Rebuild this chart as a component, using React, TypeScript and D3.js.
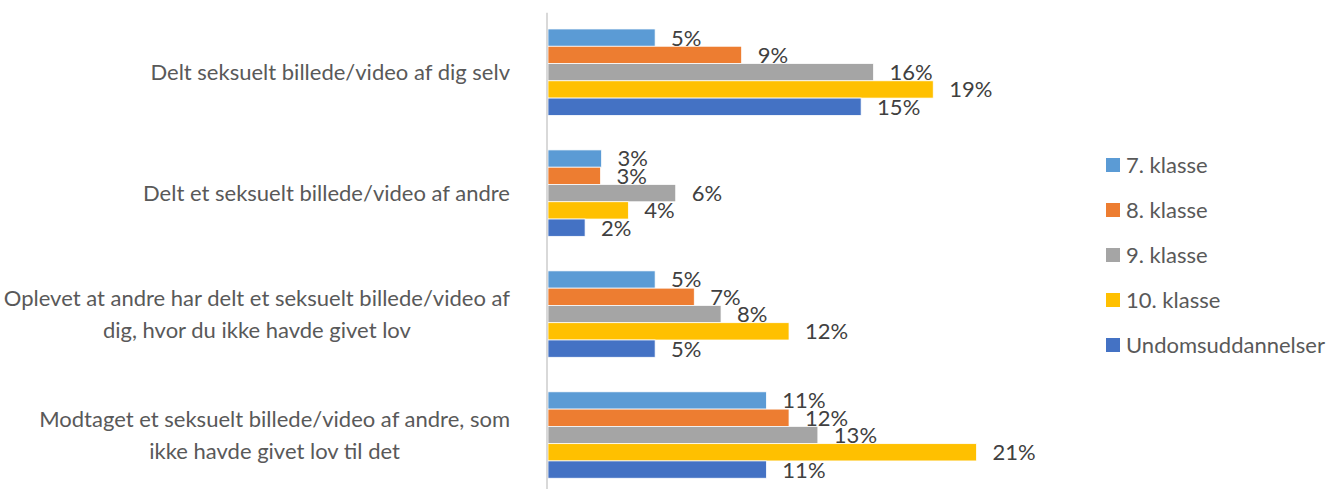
import React, { useRef, useEffect } from 'react';
import * as d3 from 'd3';

// categories (each entry is the wrapped lines of the label)
const categories: string[][] = [
  ['Delt seksuelt billede/video af dig selv'],
  ['Delt et seksuelt billede/video af andre'],
  ['Oplevet at andre har delt et seksuelt billede/video af', 'dig, hvor du ikke havde givet lov'],
  ['Modtaget et seksuelt billede/video af andre, som', 'ikke havde givet lov til det'],
];

const seriesNames = ['7. klasse', '8. klasse', '9. klasse', '10. klasse', 'Undomsuddannelser'];
const seriesColors = ['#5B9BD5', '#ED7D31', '#A5A5A5', '#FFC000', '#4472C4'];

// percent per category, one array per series
const klasse7 = [5.2, 2.6, 5.2, 10.6];
const klasse8 = [9.4, 2.55, 7.1, 11.7];
const klasse9 = [15.8, 6.2, 8.4, 13.1];
const klasse10 = [18.7, 3.9, 11.7, 20.8];
const undoms = [15.2, 1.8, 5.2, 10.6];

const seriesValues = [klasse7, klasse8, klasse9, klasse10, undoms];

const xMax = 25;

const W = 1331;
const H = 489;
const FONT = 'Lato, "Liberation Sans", sans-serif';
const FS = '22px';

const App: React.FC = () => {
  const svgRef = useRef<SVGSVGElement | null>(null);

  useEffect(() => {
    document.body.style.margin = '0';
    document.body.style.overflow = 'hidden';
    if (!svgRef.current) return;
    const svg = d3.select(svgRef.current);
    svg.selectAll('*').remove();

    const margin = { top: 11.7, left: 548 };
    const plotW = 515;
    const plotH = 483.8;

    const x = d3.scaleLinear().domain([0, xMax]).range([margin.left, margin.left + plotW]);
    const y = d3.scaleBand<number>()
      .domain(categories.map((_, i) => i))
      .range([margin.top, margin.top + plotH])
      .paddingInner(2 / 7)
      .paddingOuter(1 / 7);
    const ys = d3.scaleBand<number>()
      .domain(seriesNames.map((_, i) => i))
      .range([0, y.bandwidth()]);

    // bars
    const groups = svg.append('g')
      .selectAll('g')
      .data(categories.map((_, ci) => ci))
      .enter()
      .append('g')
      .attr('transform', ci => `translate(0, ${y(ci)})`);

    groups.selectAll('rect')
      .data(ci => seriesValues.map((vals, si) => ({ si, v: vals[ci] })))
      .enter()
      .append('rect')
      .attr('x', x(0))
      .attr('y', d => ys(d.si)!)
      .attr('width', d => x(d.v) - x(0))
      .attr('height', ys.bandwidth())
      .attr('fill', d => seriesColors[d.si])
      .attr('stroke', '#fff')
      .attr('stroke-width', 0.75);

    groups.selectAll('text')
      .data(ci => seriesValues.map((vals, si) => ({ si, v: vals[ci] })))
      .enter()
      .append('text')
      .attr('x', d => x(d.v) + 16)
      .attr('y', d => ys(d.si)! + ys.bandwidth() / 2)
      .attr('dy', '0.36em')
      .attr('fill', '#404040')
      .style('font-family', FONT)
      .style('font-size', FS)
      .text(d => `${Math.round(d.v)}%`);

    // axis line
    svg.append('line')
      .attr('x1', x(0) - 1)
      .attr('x2', x(0) - 1)
      .attr('y1', margin.top + 1)
      .attr('y2', margin.top + plotH)
      .attr('stroke', '#D9D9D9')
      .attr('stroke-width', 2);

    // category labels
    const lineH = 31.3;
    const rightEdge = 510;
    categories.forEach((lines, ci) => {
      const cy = y(ci)! + y.bandwidth() / 2;
      const g = svg.append('g');
      const texts = lines.map((ln, li) =>
        g.append('text')
          .attr('y', cy + (li - (lines.length - 1) / 2) * lineH)
          .attr('dy', '0.36em')
          .attr('text-anchor', 'middle')
          .attr('fill', '#595959')
          .style('font-family', FONT)
          .style('font-size', FS)
          .text(ln)
      );
      const maxW = d3.max(texts, t => (t.node() as SVGTextElement).getComputedTextLength()) || 0;
      texts.forEach(t => t.attr('x', rightEdge - maxW / 2));
    });

    // legend
    const legend = svg.append('g').attr('transform', 'translate(1106, 165)');
    seriesNames.forEach((name, si) => {
      const row = legend.append('g').attr('transform', `translate(0, ${si * 45})`);
      row.append('rect')
        .attr('x', 0)
        .attr('y', -7)
        .attr('width', 14)
        .attr('height', 14)
        .attr('fill', seriesColors[si]);
      row.append('text')
        .attr('x', 20)
        .attr('y', 0)
        .attr('dy', '0.36em')
        .attr('fill', '#595959')
        .style('font-family', FONT)
        .style('font-size', FS)
        .text(name);
    });
  }, []);

  return <svg ref={svgRef} width={W} height={H} style={{ display: 'block', background: '#fff' }} />;
};

export default App;
